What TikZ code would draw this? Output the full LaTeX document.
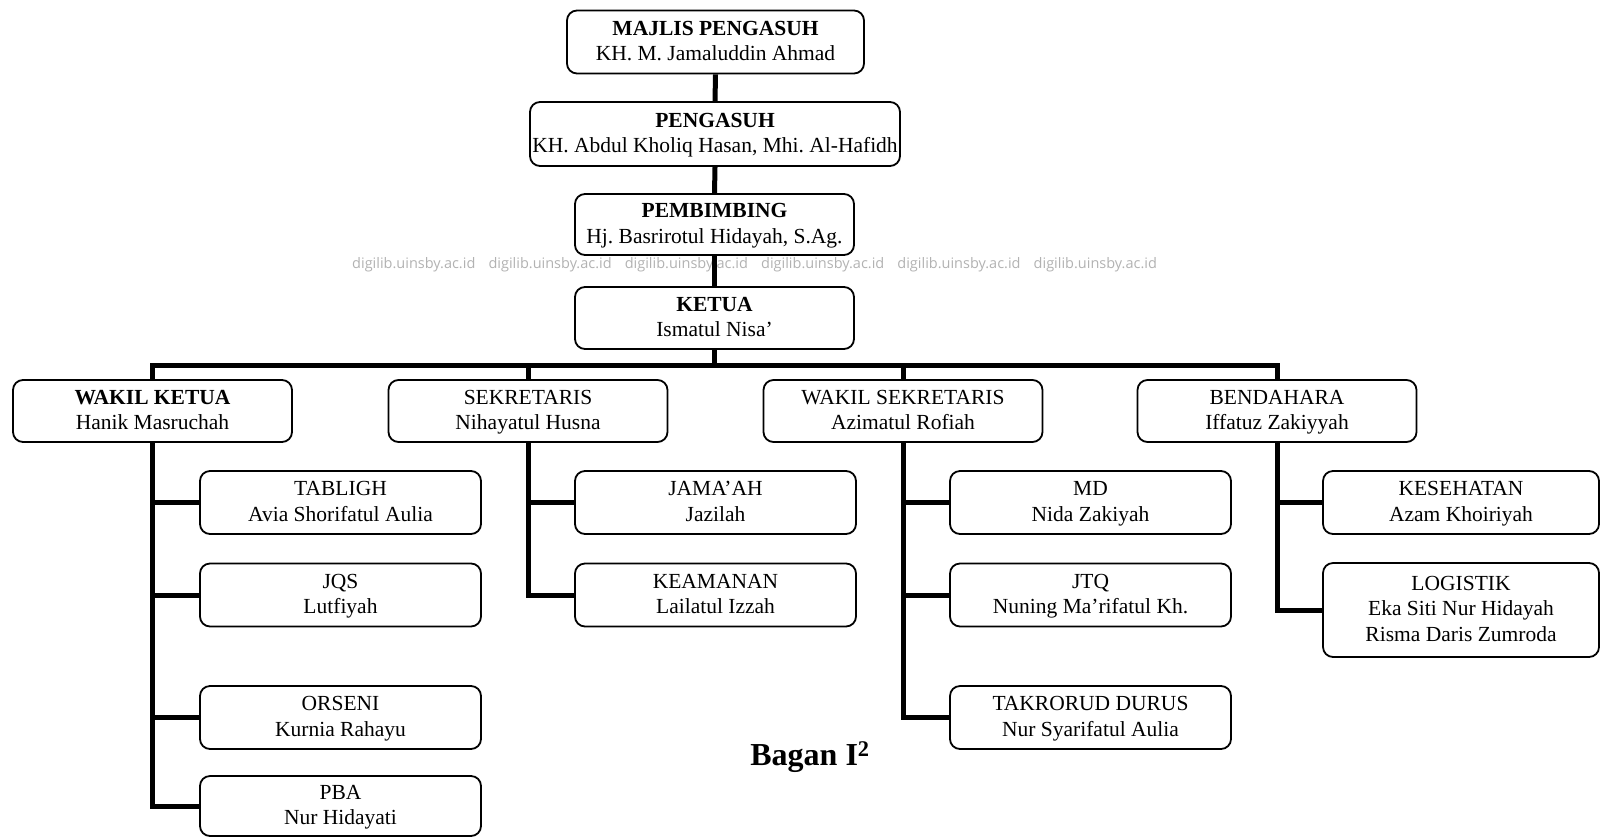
\documentclass[tikz,border=0pt]{standalone}
\usepackage{fontspec}
\setmainfont{Liberation Serif}
\newfontfamily\wmfont{Open Sans}
\frenchspacing
\newcommand{\topstrut}{\rule{0pt}{19.5pt}}
\begin{document}
\begin{tikzpicture}[x=1pt,y=-1pt,
  box/.style={draw, line width=1.8pt, rounded corners=10pt, align=center, inner sep=0pt,
    minimum width=279pt, minimum height=62pt, font=\fontsize{21.5}{25.5}\selectfont},
  child/.style={box, minimum width=281pt, minimum height=63pt},
  conn/.style={line width=5pt},
  wm/.style={anchor=west, inner sep=0pt, text=black!30, font=\wmfont\fontsize{14.5}{16}\selectfont},
]
\useasboundingbox (0,0) rectangle (1602,839);

% top chain
\node[box, minimum width=297pt, minimum height=63pt] (majlis) at (715.5,42) {\topstrut\textbf{MAJLIS PENGASUH}\\KH. M. Jamaluddin Ahmad\strut};
\node[box, minimum width=370pt, minimum height=64pt] (pengasuh) at (715,134) {\topstrut\textbf{PENGASUH}\\KH. Abdul Kholiq Hasan, Mhi. Al-Hafidh\strut};
\node[box, minimum height=61pt] (pembimbing) at (714.5,224.5) {\topstrut\textbf{PEMBIMBING}\\Hj. Basrirotul Hidayah, S.Ag.\strut};
\node[box] (ketua) at (714.5,318) {\topstrut\textbf{KETUA}\\Ismatul Nisa’\strut};

% second level
\node[box] (wk) at (152.5,411) {\topstrut\textbf{WAKIL KETUA}\\Hanik Masruchah\strut};
\node[box] (sek) at (528,411) {\topstrut SEKRETARIS\\Nihayatul Husna\strut};
\node[box] (ws) at (903,411) {\topstrut WAKIL SEKRETARIS\\Azimatul Rofiah\strut};
\node[box] (ben) at (1277,411) {\topstrut BENDAHARA\\Iffatuz Zakiyyah\strut};

% children
\node[child] (tabligh) at (340.5,502.5) {\topstrut TABLIGH\\Avia Shorifatul Aulia\strut};
\node[child] (jqs) at (340.5,595) {\topstrut JQS\\Lutfiyah\strut};
\node[child] (orseni) at (340.5,717.5) {\topstrut ORSENI\\Kurnia Rahayu\strut};
\node[child, minimum height=60pt] (pba) at (340.5,806) {\topstrut PBA\\Nur Hidayati\strut};

\node[child] (jamaah) at (715.5,502.5) {\topstrut JAMA’AH\\Jazilah\strut};
\node[child] (keamanan) at (715.5,595) {\topstrut KEAMANAN\\Lailatul Izzah\strut};

\node[child] (md) at (1090.5,502.5) {\topstrut MD\\Nida Zakiyah\strut};
\node[child] (jtq) at (1090.5,595) {\topstrut JTQ\\Nuning Ma’rifatul Kh.\strut};
\node[child] (takrorud) at (1090.5,717.5) {\topstrut TAKRORUD DURUS\\Nur Syarifatul Aulia\strut};

\node[child, minimum width=276pt] (kesehatan) at (1461,502.5) {\topstrut KESEHATAN\\Azam Khoiriyah\strut};
\node[child, minimum width=276pt, minimum height=94pt] (logistik) at (1461,610) {\topstrut LOGISTIK\\Eka Siti Nur Hidayah\\Risma Daris Zumroda\strut};

% watermark
\foreach \i in {0,...,5}
  \node[wm] (wm\i) at (352+\i*136.3,265) {digilib.uinsby.ac.id};

% connectors: top chain
\draw[conn] (majlis.south) -- (pengasuh.north);
\draw[conn] (pengasuh.south) -- (pembimbing.north);
\draw[conn] (pembimbing.south) -- (ketua.north);

% main bar
\coordinate (bar) at (714.5,365);
\draw[conn] (ketua.south) -- (bar);
\draw[conn] (wk.north) -- (wk.north |- bar) -- (ben.north |- bar) -- (ben.north);
\draw[conn] (sek.north) -- (sek.north |- bar);
\draw[conn] (ws.north) -- (ws.north |- bar);

% column 1
\draw[conn] (wk.south) |- (pba.west);
\draw[conn] (wk.south |- tabligh.west) -- (tabligh.west);
\draw[conn] (wk.south |- jqs.west) -- (jqs.west);
\draw[conn] (wk.south |- orseni.west) -- (orseni.west);

% column 2
\draw[conn] (sek.south) |- (keamanan.west);
\draw[conn] (sek.south |- jamaah.west) -- (jamaah.west);

% column 3
\draw[conn] (ws.south) |- (takrorud.west);
\draw[conn] (ws.south |- md.west) -- (md.west);
\draw[conn] (ws.south |- jtq.west) -- (jtq.west);

% column 4
\draw[conn] (ben.south) |- (logistik.west);
\draw[conn] (ben.south |- kesehatan.west) -- (kesehatan.west);

% caption
\node[inner sep=0pt, font=\fontsize{32}{36}\selectfont\bfseries] (bagan) at (810,757) {Bagan I\textsuperscript{2}};
\end{tikzpicture}
\end{document}
